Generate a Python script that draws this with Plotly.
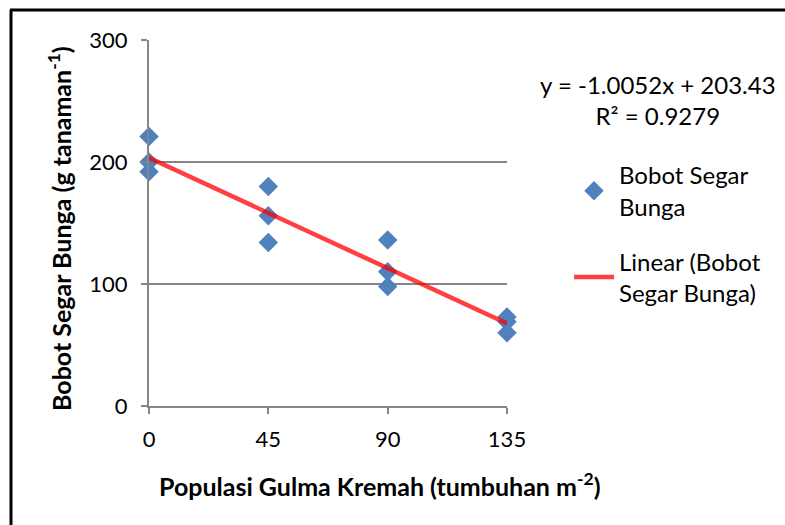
import plotly.graph_objects as go

# Data
populasi = [0, 0, 0, 45, 45, 45, 90, 90, 90, 135, 135, 135]
bobot = [221, 200, 192, 180, 156, 134, 136, 110, 98, 73, 69, 60]
slope = -1.0052
intercept = 203.43
r2 = 0.9279
x_ticks = [0, 45, 90, 135]
y_ticks = [0, 100, 200, 300]

W, H = 785, 525
L, R, T, B = 149, 507, 40, 406
pw, ph = R - L, B - T

def px_x(p):
    return (p - L) / pw

def px_y(p):
    return (B - p) / ph

FONT = "Lato"
trend_x = [min(populasi), max(populasi)]
trend_y = [slope * v + intercept for v in trend_x]

fig = go.Figure()
fig.add_trace(go.Scatter(
    x=populasi, y=bobot, mode="markers", name="Bobot Segar<br>Bunga",
    legendgroup="a", cliponaxis=False,
    marker=dict(symbol="diamond", size=15, color="#4F81BD"),
))
fig.add_trace(go.Scatter(
    x=trend_x, y=trend_y, mode="lines", name="Linear (Bobot<br>Segar Bunga)",
    legendgroup="b",
    line=dict(color="rgba(255,0,0,0.75)", width=4.5),
))

fig.update_layout(
    width=W, height=H,
    margin=dict(l=L, r=W - R, t=T, b=H - B, autoexpand=False),
    paper_bgcolor="white", plot_bgcolor="white",
    font=dict(family=FONT, size=24, color="black"),
    showlegend=True,
    legend=dict(x=px_x(569), y=px_y(153), xanchor="left", yanchor="top",
                font=dict(size=24), itemwidth=40, tracegroupgap=21,
                bgcolor="rgba(0,0,0,0)"),
    xaxis=dict(range=[0, 135], tickvals=x_ticks, showgrid=False,
               showline=True, linecolor="#868686", linewidth=2,
               ticks="outside", ticklen=6, tickcolor="#868686", tickwidth=2,
               ticklabelstandoff=7,
               zeroline=False, tickfont=dict(size=22), automargin=False),
    yaxis=dict(range=[0, 300], tickvals=y_ticks, showgrid=True,
               gridcolor="#868686", gridwidth=2,
               showline=True, linecolor="#868686", linewidth=2,
               ticks="outside", ticklen=6, tickcolor="#868686", tickwidth=2,
               ticklabelstandoff=9,
               zeroline=False, tickfont=dict(size=22), automargin=False),
    annotations=[
        dict(xref="paper", yref="paper", x=px_x(380), y=px_y(485),
             text="<b>Populasi Gulma Kremah (tumbuhan m<sup>-2</sup>)</b>",
             showarrow=False, xanchor="center", yanchor="middle",
             font=dict(size=25)),
        dict(xref="paper", yref="paper", x=px_x(59), y=px_y(229),
             text="<b>Bobot Segar Bunga (g tanaman<sup>-1</sup>)</b>",
             showarrow=False, xanchor="center", yanchor="middle",
             textangle=-90, font=dict(size=25)),
        dict(xref="paper", yref="paper", x=px_x(658), y=px_y(100),
             text=f"y = {slope:.4f}x + {intercept:.2f}<br>R² = {r2:.4f}",
             showarrow=False, xanchor="center", yanchor="middle",
             align="center", font=dict(size=24)),
    ],
    shapes=[
        dict(type="line", xref="paper", yref="paper",
             x0=px_x(11), y0=px_y(10), x1=px_x(11), y1=px_y(600),
             line=dict(color="black", width=3), layer="below"),
        dict(type="line", xref="paper", yref="paper",
             x0=px_x(10), y0=px_y(10), x1=px_x(900), y1=px_y(10),
             line=dict(color="black", width=3), layer="below"),
    ],
)

fig.write_html("out.html", config={"displayModeBar": False},
               post_script="document.body.style.margin='0';document.body.style.overflow='hidden';")
